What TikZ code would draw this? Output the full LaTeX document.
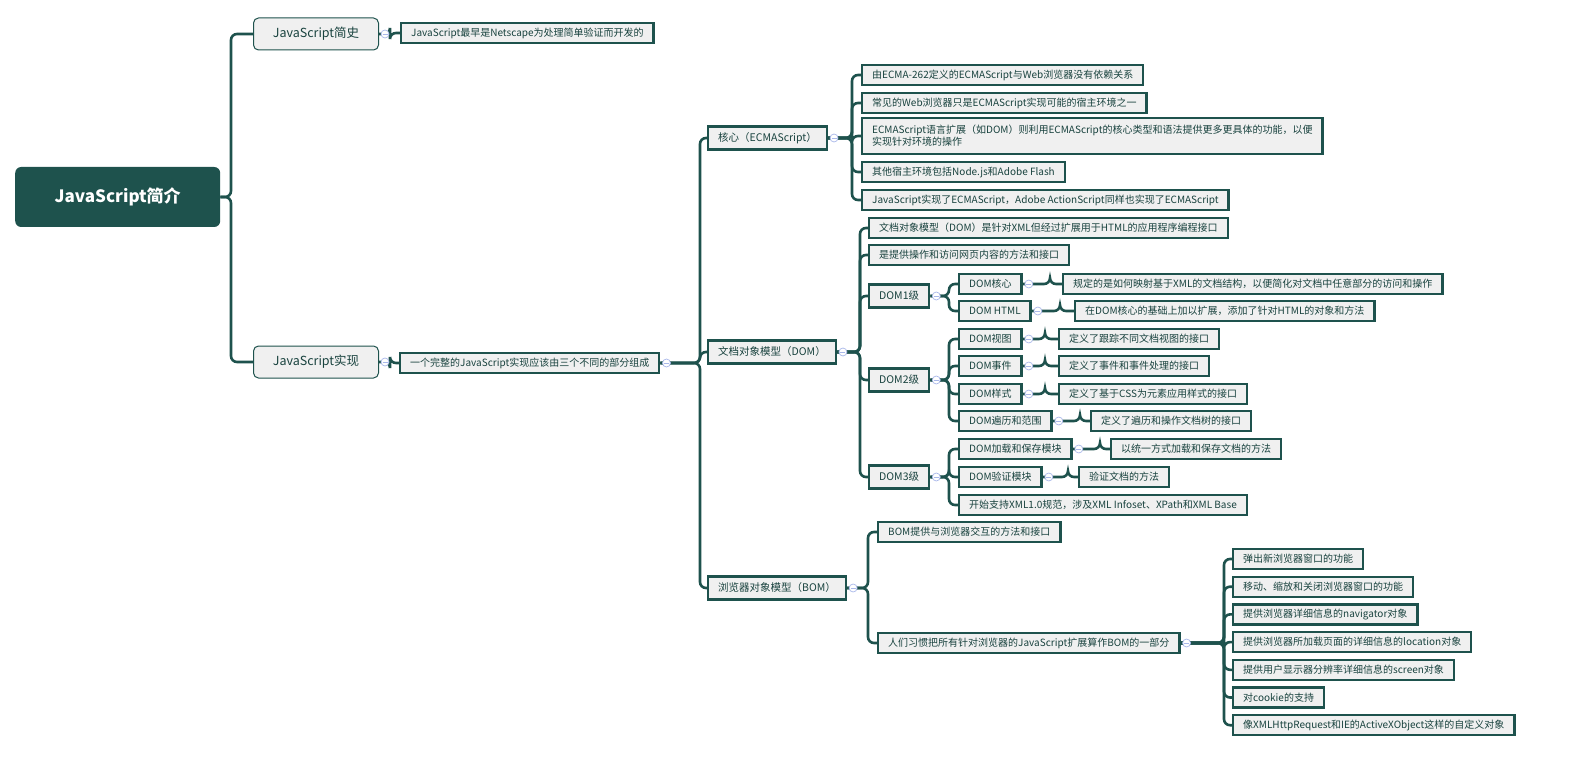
\documentclass[tikz,border=0pt]{standalone}
\usepackage{fontspec}
\setmainfont{Noto Sans CJK SC}
\usetikzlibrary{backgrounds}
\definecolor{mmgreen}{HTML}{1E524D}
\definecolor{mmfill}{HTML}{F0F0F0}
\definecolor{mmblue}{HTML}{A9B8EA}
\tikzset{
  root/.style={draw=none, fill=mmgreen, rounded corners=6pt, text=white, font=\fontsize{17}{20}\selectfont\bfseries,
    minimum width=205pt, minimum height=60pt, anchor=west},
  topic/.style={draw=mmgreen, line width=1pt, fill=mmfill, rounded corners=5pt, text=mmgreen!80!black,
    font=\fontsize{12.5}{15}\selectfont, minimum width=125pt, minimum height=32pt, anchor=west},
  branch/.style={draw=mmgreen, line width=2.4pt, fill=mmfill, text=mmgreen!80!black,
    font=\fontsize{10.5}{13}\selectfont, inner xsep=10pt, minimum height=23pt, anchor=west},
  leaf/.style={draw=mmgreen, line width=2.4pt, fill=mmfill, text=mmgreen!80!black,
    font=\fontsize{10}{12}\selectfont, inner xsep=10pt, minimum height=20pt, anchor=west},
  link/.style={draw=mmgreen, line width=2.6pt, rounded corners=6pt},
  fold/.style={draw=mmblue, fill=white, circle, inner sep=0pt, minimum size=8pt, line width=0.7pt}
}
\newcommand{\br}[3]{\draw[link] (#1.east) -- (#3,0 |- #1.east) |- (#2.west);}
\newcommand{\fold}[1]{\node[fold] at ([xshift=6pt]#1.east) {}; \draw[mmblue, line width=0.6pt] ([xshift=3.5pt]#1.east) -- ([xshift=8.5pt]#1.east);}
\begin{document}
\begin{tikzpicture}[x=1pt, y=-1pt]
\useasboundingbox (0,0) rectangle (1582,762);
% main topics
\node[root] (main) at (15,197) {JavaScript简介};
\node[topic] (hist) at (253,34) {JavaScript简史};
\node[topic] (impl) at (253,362) {JavaScript实现};
\node[leaf] (hist1) at (400,33) {JavaScript最早是Netscape为处理简单验证而开发的};
\node[leaf] (impl1) at (399,363) {一个完整的JavaScript实现应该由三个不同的部分组成};
% core
\node[branch] (core) at (707,138) {核心（ECMAScript）};
\node[leaf] (core1) at (861,75) {由ECMA-262定义的ECMAScript与Web浏览器没有依赖关系};
\node[leaf] (core2) at (861,103) {常见的Web浏览器只是ECMAScript实现可能的宿主环境之一};
\node[leaf, align=left, minimum height=36pt] (core3) at (861,136) {ECMAScript语言扩展（如DOM）则利用ECMAScript的核心类型和语法提供更多更具体的功能，以便\\实现针对环境的操作};
\node[leaf] (core4) at (861,172) {其他宿主环境包括Node.js和Adobe Flash};
\node[leaf] (core5) at (861,200) {JavaScript实现了ECMAScript，Adobe ActionScript同样也实现了ECMAScript};
% dom
\node[branch] (dom) at (707,352) {文档对象模型（DOM）};
\node[leaf] (dom1) at (868,228) {文档对象模型（DOM）是针对XML但经过扩展用于HTML的应用程序编程接口};
\node[leaf] (dom2) at (868,255) {是提供操作和访问网页内容的方法和接口};
\node[branch] (lv1) at (868,296) {DOM1级};
\node[branch] (lv2) at (868,380) {DOM2级};
\node[branch] (lv3) at (868,477) {DOM3级};
\node[leaf] (dcore) at (958,284) {DOM核心};
\node[leaf] (html) at (958,311) {DOM HTML};
\node[leaf] (dcorel) at (1062,284) {规定的是如何映射基于XML的文档结构，以便简化对文档中任意部分的访问和操作};
\node[leaf] (htmll) at (1074,311) {在DOM核心的基础上加以扩展，添加了针对HTML的对象和方法};
\node[leaf] (view) at (958,339) {DOM视图};
\node[leaf] (event) at (958,366) {DOM事件};
\node[leaf] (style) at (958,394) {DOM样式};
\node[leaf] (trav) at (958,421) {DOM遍历和范围};
\node[leaf] (viewl) at (1058,339) {定义了跟踪不同文档视图的接口};
\node[leaf] (eventl) at (1058,366) {定义了事件和事件处理的接口};
\node[leaf] (stylel) at (1058,394) {定义了基于CSS为元素应用样式的接口};
\node[leaf] (travl) at (1090,421) {定义了遍历和操作文档树的接口};
\node[leaf] (load) at (958,449) {DOM加载和保存模块};
\node[leaf] (valid) at (958,477) {DOM验证模块};
\node[leaf] (xml) at (958,505) {开始支持XML1.0规范，涉及XML Infoset、XPath和XML Base};
\node[leaf] (loadl) at (1110,449) {以统一方式加载和保存文档的方法};
\node[leaf] (validl) at (1078,477) {验证文档的方法};
% bom
\node[branch] (bom) at (707,588) {浏览器对象模型（BOM）};
\node[leaf] (bom1) at (877,532) {BOM提供与浏览器交互的方法和接口};
\node[leaf] (bom2) at (877,643) {人们习惯把所有针对浏览器的JavaScript扩展算作BOM的一部分};
\foreach \t [count=\i] in {弹出新浏览器窗口的功能, 移动、缩放和关闭浏览器窗口的功能,
    提供浏览器详细信息的navigator对象, 提供浏览器所加载页面的详细信息的location对象,
    提供用户显示器分辨率详细信息的screen对象, 对cookie的支持,
    像XMLHttpRequest和IE的ActiveXObject这样的自定义对象}
  \node[leaf] (b\i) at (1232,{559+27.7*(\i-1)}) {\t};
% connectors
\begin{pgfonlayer}{background}
\br{main}{hist}{231} \br{main}{impl}{231}
\br{hist}{hist1}{390} \br{impl}{impl1}{390}
\br{impl1}{core}{700} \br{impl1}{dom}{700} \br{impl1}{bom}{700}
\foreach \c in {core1,core2,core3,core4,core5} {\br{core}{\c}{852}}
\foreach \c in {dom1,dom2,lv1,lv2,lv3} {\br{dom}{\c}{860}}
\br{lv1}{dcore}{949} \br{lv1}{html}{949}
\foreach \c in {view,event,style,trav} {\br{lv2}{\c}{949}}
\foreach \c in {load,valid,xml} {\br{lv3}{\c}{949}}
\br{dcore}{dcorel}{1050} \br{html}{htmll}{1060}
\br{view}{viewl}{1045} \br{event}{eventl}{1045} \br{style}{stylel}{1045} \br{trav}{travl}{1080}
\br{load}{loadl}{1100} \br{valid}{validl}{1068}
\br{bom}{bom1}{868} \br{bom}{bom2}{868}
\foreach \i in {1,...,7} {\br{bom2}{b\i}{1224}}
\end{pgfonlayer}
% fold markers
\foreach \p in {hist,impl,impl1,core,dom,bom,lv1,lv2,lv3,dcore,html,view,event,style,trav,load,valid,bom2} {\fold{\p}}
\end{tikzpicture}
\end{document}
